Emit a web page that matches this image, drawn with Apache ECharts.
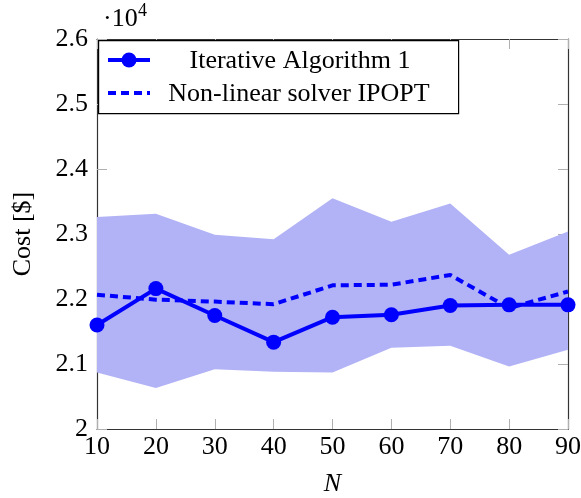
<!DOCTYPE html>
<html>
<head>
<meta charset="utf-8">
<script src="https://cdn.jsdelivr.net/npm/echarts@6/dist/echarts.min.js"></script>
<style>html,body{margin:0;padding:0;background:#fff}#c{width:581px;height:498px}</style>
</head>
<body>
<div id="c"></div>
<script>
var categories = ['10','20','30','40','50','60','70','80','90'];
var iterative = [21600, 22160, 21746, 21336, 21720, 21757, 21900, 21910, 21910];
var ipopt = [22065, 21990, 21960, 21920, 22210, 22220, 22370, 21860, 22115];
var bandUpper = [23260, 23310, 22990, 22920, 23550, 23190, 23470, 22680, 23040];
var bandLower = [20870, 20630, 20920, 20880, 20870, 21250, 21280, 20960, 21220];
var yTicks = [20000, 21000, 22000, 23000, 24000, 25000, 26000];
var seriesNames = ['Iterative Algorithm 1', 'Non-linear solver IPOPT'];

var FONT = 'Liberation Serif';
var FS = 26;
var BLUE = '#0000ff';
var FILL = '#b2b2f6';
var bandDiff = bandUpper.map(function (u, i) { return u - bandLower[i]; });

var chart = echarts.init(document.getElementById('c'), null, {renderer: 'canvas'});
var tickStyle = {show: true, inside: true, length: 10, lineStyle: {color: '#b0b0b0', width: 1}};
var axisLineStyle = {show: true, lineStyle: {color: '#333', width: 1.2}};

chart.setOption({
  animation: false,
  grid: {left: 97, right: 13, top: 39, bottom: 69, containLabel: false, outerBoundsMode: 'none'},
  xAxis: [{
    type: 'category', data: categories, boundaryGap: false,
    axisLine: axisLineStyle, axisTick: Object.assign({alignWithLabel: true}, tickStyle),
    axisLabel: {color: '#000', fontFamily: FONT, fontSize: FS, margin: 5},
    splitLine: {show: false},
    name: 'N', nameLocation: 'middle', nameGap: 42,
    nameTextStyle: {color: '#000', fontFamily: FONT, fontSize: FS, fontStyle: 'italic'}
  }, {
    type: 'category', data: categories, boundaryGap: false, position: 'top',
    axisLine: axisLineStyle, axisTick: tickStyle, axisLabel: {show: false}, splitLine: {show: false}
  }],
  yAxis: [{
    type: 'value', min: 20000, max: 26000, interval: 1000,
    axisLine: axisLineStyle, axisTick: tickStyle,
    axisLabel: {color: '#000', fontFamily: FONT, fontSize: FS, margin: 9,
      formatter: function (v) { return v === 20000 ? '2' : (v / 10000).toFixed(1); }},
    splitLine: {show: false},
    name: 'Cost [$]', nameLocation: 'middle', nameGap: 61, nameRotate: 90,
    nameTextStyle: {color: '#000', fontFamily: FONT, fontSize: FS}
  }, {
    type: 'value', min: 20000, max: 26000, interval: 1000, position: 'right',
    axisLine: axisLineStyle, axisTick: tickStyle, axisLabel: {show: false}, splitLine: {show: false}
  }],
  series: [{
    name: 'lower', type: 'line', stack: 'band', data: bandLower, symbol: 'none',
    lineStyle: {opacity: 0}, silent: true, z: 1
  }, {
    name: 'band', type: 'line', stack: 'band', data: bandDiff, symbol: 'none',
    lineStyle: {opacity: 0}, areaStyle: {color: FILL, opacity: 1}, silent: true, z: 1
  }, {
    name: seriesNames[1], type: 'line', data: ipopt, symbol: 'none',
    lineStyle: {color: BLUE, width: 4, type: [8, 5]}, z: 3
  }, {
    name: seriesNames[0], type: 'line', data: iterative, symbol: 'circle', symbolSize: 15,
    itemStyle: {color: BLUE}, lineStyle: {color: BLUE, width: 4}, z: 4
  }],
  graphic: [
    {type: 'rect', left: 98, top: 40, shape: {width: 360, height: 73},
      style: {fill: '#fff', stroke: '#000', lineWidth: 1.2}, z: 100},
    {type: 'line', shape: {x1: 108, y1: 60, x2: 150, y2: 60},
      style: {stroke: BLUE, lineWidth: 4}, z: 101},
    {type: 'circle', shape: {cx: 129, cy: 60, r: 7.5}, style: {fill: BLUE}, z: 102},
    {type: 'line', shape: {x1: 108, y1: 93, x2: 150, y2: 93},
      style: {stroke: BLUE, lineWidth: 4, lineDash: [8, 5]}, z: 101},
    {type: 'text', x: 300, y: 61, style: {text: seriesNames[0], fill: '#000',
      font: FS + 'px "' + FONT + '"', textAlign: 'center', textVerticalAlign: 'middle'}, z: 101},
    {type: 'text', x: 299, y: 94, style: {text: seriesNames[1], fill: '#000',
      font: FS + 'px "' + FONT + '"', textAlign: 'center', textVerticalAlign: 'middle'}, z: 101},
    {type: 'text', x: 103, y: 19, style: {text: '\u00b710', fill: '#000',
      font: FS + 'px "' + FONT + '"', textAlign: 'left', textVerticalAlign: 'middle'}, z: 101},
    {type: 'text', x: 138, y: 11, style: {text: '4', fill: '#000',
      font: '18px "' + FONT + '"', textAlign: 'left', textVerticalAlign: 'middle'}, z: 101}
  ]
});
</script>
</body>
</html>
